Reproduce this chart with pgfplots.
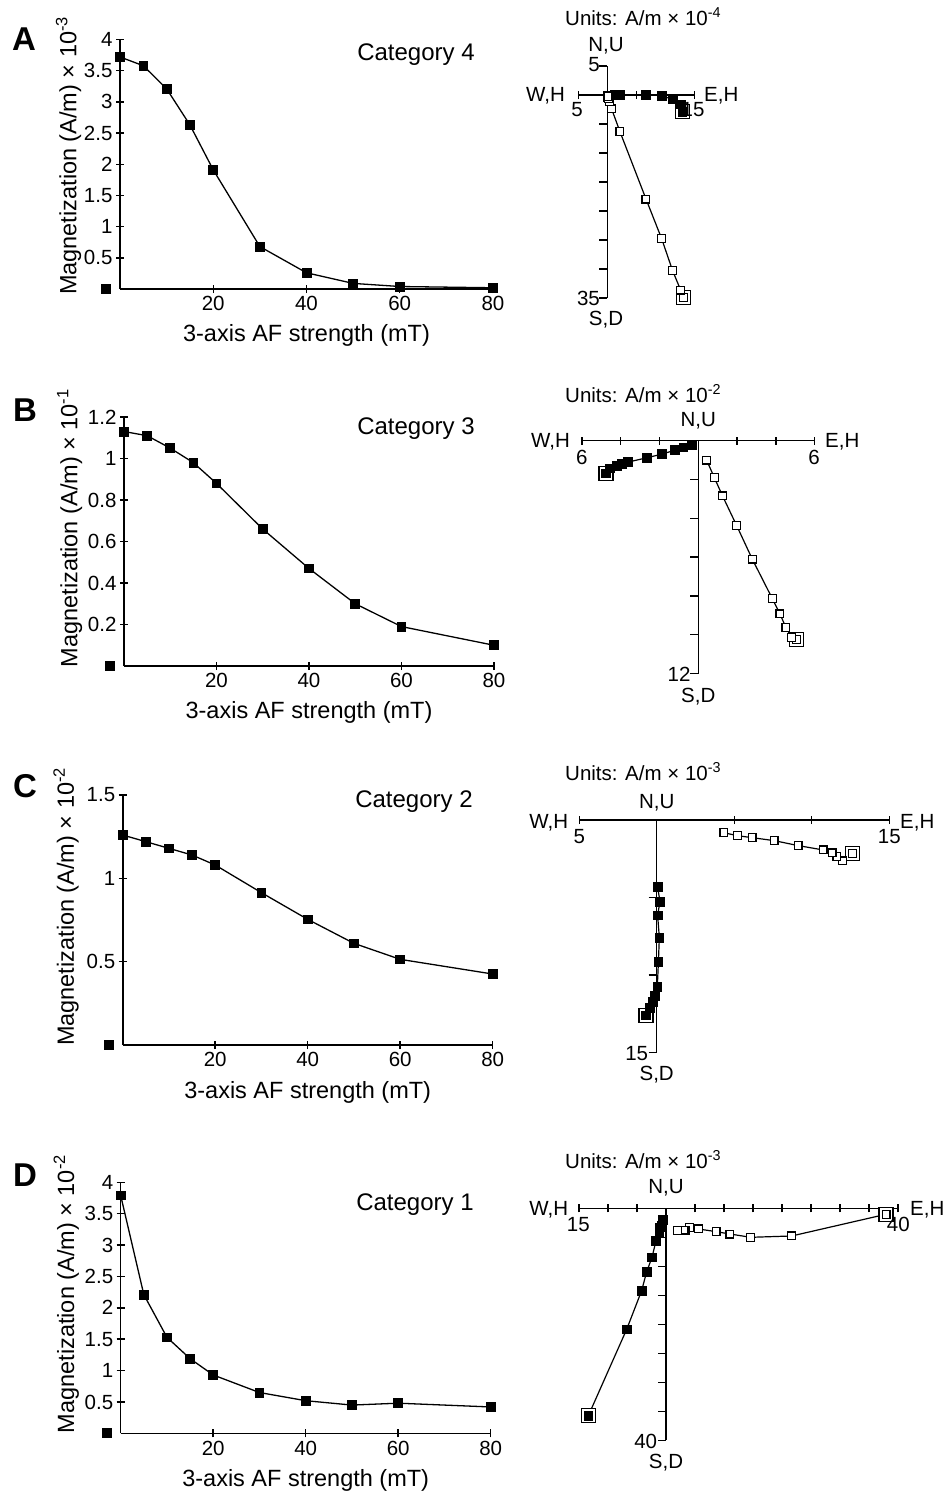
\documentclass[border=0pt]{standalone}
\usepackage{fontspec}
\setmainfont{Liberation Sans}
\usepackage{pgfplots}
\pgfplotsset{compat=1.18}
\newcommand\ftick{\fontsize{20.5}{24}\selectfont}
\newcommand\flab{\fontsize{23.5}{28}\selectfont}
\newcommand\fcat{\fontsize{24}{28}\selectfont}
\newcommand\fzij{\fontsize{20.5}{24}\selectfont}
\newcommand\flet{\fontsize{33}{38}\selectfont\bfseries}
\pgfplotsset{
  decay/.style={scale only axis, axis lines=left, axis line style={-, line width=1.6pt},
    xmin=0, xmax=80, ymin=0, enlargelimits=false, clip=false,
    tick align=center, major tick length=8pt, tick style={line width=1.4pt, black},
    xtick={20,40,60,80}, /pgf/number format/assume math mode=true,
    tick label style={font=\ftick}, label style={font=\flab},
    xlabel={3-axis AF strength (mT)},
    x label style={at={(axis description cs:0.5,-0.212)}, anchor=base},
    extra y ticks={0}, extra y tick labels={\rule{10pt}{10pt}},
    extra y tick style={major tick length=0pt, yticklabel style={xshift=-5pt}}},
  zij/.style={axis lines=middle, axis line style={-, line width=1.5pt},
    enlargelimits=false, clip=false, tick align=center, major tick length=8pt,
    tick style={line width=1.3pt, black}, xticklabels={}, yticklabels={},
    every major y tick/.append style={xshift=-4pt}},
  dline/.style={black, line width=1.3pt, mark=square*, mark size=4.4pt, mark options={line width=0.8pt}},
  zfill/.style={black, line width=1.2pt, mark=square*, mark size=4.4pt, mark options={line width=0.8pt}},
  zopen/.style={black, line width=1.2pt, mark=square*, mark size=3.9pt, mark options={fill=white, line width=1.2pt}},
  znrm/.style={only marks, mark=square*, mark size=7pt, mark options={fill=white, draw=black, line width=1.1pt}},
}
\begin{document}
\begin{tikzpicture}
\useasboundingbox (0pt,0pt) rectangle (947pt,-1492pt);

% ---------- A ----------
\begin{axis}[decay, at={(120pt,-289pt)}, anchor=south west, width=373pt, height=249.5pt,
  ymax=4, ytick={0.5,1,1.5,2,2.5,3,3.5,4},
  ylabel={Magnetization (A/m) × 10\textsuperscript{-3}},
  y label style={at={(axis description cs:-0.117,0.534)}, anchor=base}]
\addplot[dline] coordinates {(0,3.72)(5,3.58)(10,3.21)(15,2.63)(20,1.91)(30,0.68)(40,0.26)(50,0.09)(60,0.04)(80,0.02)};
\end{axis}
\begin{axis}[zij, at={(578.3pt,-298pt)}, anchor=south west, x=5.8pt, y=5.8pt,
  xmin=-5, xmax=15, ymin=-35, ymax=5, xtick={-5,5,10,15}, ytick={5,-5,-10,-15,-20,-25,-30,-35}]
\addplot[znrm] coordinates {(12.93,-2.87)};
\addplot[znrm] coordinates {(13.10,-34.94)};
\addplot[zfill] coordinates {(12.93,-2.87)(12.64,-1.61)(11.26,-0.75)(9.37,-0.11)(6.67,0.06)(2.18,0)(1.32,0)(0.57,-0.06)(0.17,-0.17)(0,-0.29)};
\addplot[zopen] coordinates {(13.10,-34.94)(12.64,-33.62)(11.26,-30.29)(9.37,-24.77)(6.67,-17.93)(2.18,-6.32)(0.75,-2.41)(0.40,-1.15)(0.2,-0.57)(0.1,-0.29)};
\end{axis}

% ---------- B ----------
\begin{axis}[decay, at={(124pt,-666pt)}, anchor=south west, width=370pt, height=249pt,
  ymax=1.2, ytick={0.2,0.4,0.6,0.8,1,1.2},
  ylabel={Magnetization (A/m) × 10\textsuperscript{-1}},
  y label style={at={(axis description cs:-0.126,0.554)}, anchor=base}]
\addplot[dline] coordinates {(0,1.13)(5,1.11)(10,1.05)(15,0.98)(20,0.88)(30,0.66)(40,0.47)(50,0.30)(60,0.19)(80,0.10)};
\end{axis}
\begin{axis}[zij, at={(581.9pt,-673.5pt)}, anchor=south west, x=19.4pt, y=19.4pt,
  xmin=-6, xmax=6, ymin=-12, ymax=0, xtick={-6,-4,-2,2,4,6}, ytick={-2,-4,-6,-8,-10,-12}]
\addplot[znrm] coordinates {(-4.76,-1.68)};
\addplot[znrm] coordinates {(5.07,-10.24)};
\addplot[zfill] coordinates {(-4.76,-1.68)(-4.55,-1.43)(-4.21,-1.29)(-3.95,-1.20)(-3.61,-1.10)(-2.66,-0.88)(-1.86,-0.69)(-1.19,-0.48)(-0.77,-0.34)(-0.34,-0.22)};
\addplot[zopen] coordinates {(5.07,-10.24)(4.81,-10.15)(4.52,-9.64)(4.21,-8.93)(3.81,-8.13)(2.78,-6.10)(1.98,-4.38)(1.25,-2.85)(0.82,-1.89)(0.43,-1.00)};
\end{axis}

% ---------- C ----------
\begin{axis}[decay, at={(122.7pt,-1045pt)}, anchor=south west, width=370pt, height=250pt,
  ymax=1.5, ytick={0.5,1,1.5},
  ylabel={Magnetization (A/m) × 10\textsuperscript{-2}},
  y label style={at={(axis description cs:-0.132,0.553)}, anchor=base}]
\addplot[dline] coordinates {(0,1.26)(5,1.22)(10,1.18)(15,1.14)(20,1.08)(30,0.914)(40,0.754)(50,0.61)(60,0.514)(80,0.426)};
\end{axis}
\begin{axis}[zij, at={(579.2pt,-1052.5pt)}, anchor=south west, x=15.5pt, y=15.5pt,
  xmin=-5, xmax=15, ymin=-15, ymax=0, xtick={-5,5,10,15}, ytick={-5,-10,-15}]
\addplot[znrm] coordinates {(-0.69,-12.60)};
\addplot[znrm] coordinates {(12.62,-2.15)};
\addplot[zfill] coordinates {(-0.69,-12.60)(-0.43,-12.12)(-0.26,-11.74)(-0.11,-11.37)(0.04,-10.77)(0.11,-9.14)(0.17,-7.58)(0.06,-6.16)(0.21,-5.26)(0.06,-4.33)};
\addplot[zopen] coordinates {(12.62,-2.15)(11.97,-2.64)(11.63,-2.36)(11.31,-2.12)(10.73,-1.93)(9.12,-1.65)(7.58,-1.33)(6.16,-1.14)(5.21,-1.01)(4.33,-0.82)};
\end{axis}

% ---------- D ----------
\begin{axis}[decay, at={(120.7pt,-1433.3pt)}, anchor=south west, width=370pt, height=251pt,
  ymax=4, ytick={0.5,1,1.5,2,2.5,3,3.5,4},
  ylabel={Magnetization (A/m) × 10\textsuperscript{-2}},
  y label style={at={(axis description cs:-0.126,0.555)}, anchor=base}]
\addplot[dline] coordinates {(0,3.79)(5,2.21)(10,1.53)(15,1.19)(20,0.93)(30,0.65)(40,0.52)(50,0.45)(60,0.48)(80,0.42)};
\end{axis}
\begin{axis}[zij, at={(579pt,-1440.3pt)}, anchor=south west, x=5.8pt, y=5.8pt,
  xmin=-15, xmax=40, ymin=-40, ymax=0, xtick={-15,-10,-5,5,10,15,20,25,30,35,40}, ytick={-5,-10,-15,-20,-25,-30,-35,-40}]
\addplot[znrm] coordinates {(-13.39,-35.75)};
\addplot[znrm] coordinates {(37.93,-1.03)};
\addplot[zfill] coordinates {(-13.39,-35.75)(-6.78,-20.86)(-4.20,-14.20)(-3.33,-10.92)(-2.41,-8.45)(-1.72,-5.57)(-1.15,-4.31)(-1.03,-3.28)(-0.75,-3.05)(-0.57,-2.01)};
\addplot[zopen] coordinates {(37.93,-1.03)(21.67,-4.77)(14.60,-5.00)(11.03,-4.43)(8.62,-4.02)(5.57,-3.56)(4.02,-3.28)(3.28,-3.74)(2.99,-3.74)(1.95,-3.85)};
\end{axis}

% ---------- panel letters and categories ----------
\node[font=\flet, anchor=base west, inner sep=0pt] at (12pt,-50pt) {A};
\node[font=\flet, anchor=base west, inner sep=0pt] at (13pt,-421.7pt) {B};
\node[font=\flet, anchor=base west, inner sep=0pt] at (13pt,-797.5pt) {C};
\node[font=\flet, anchor=base west, inner sep=0pt] at (13pt,-1186pt) {D};
\node[font=\fcat, anchor=base, inner sep=0pt] at (416pt,-60pt) {Category 4};
\node[font=\fcat, anchor=base, inner sep=0pt] at (416pt,-434pt) {Category 3};
\node[font=\fcat, anchor=base, inner sep=0pt] at (414pt,-807pt) {Category 2};
\node[font=\fcat, anchor=base, inner sep=0pt] at (415pt,-1210pt) {Category 1};

% ---------- Zijderveld labels ----------
\begin{scope}[every node/.style={font=\fzij, inner sep=0pt}]
% A
\node[anchor=base west] at (565pt,-25pt) {Units: A/m × 10\textsuperscript{-4}};
\node[anchor=base] at (606pt,-51.7pt) {N,U};
\node[anchor=base east] at (600pt,-71.7pt) {5};
\node[anchor=base east] at (565pt,-101.7pt) {W,H};
\node[anchor=base west] at (704pt,-101.7pt) {E,H};
\node[anchor=base] at (577pt,-116.7pt) {5};
\node[anchor=base] at (693pt,-116.7pt) {15};
\node[anchor=base east] at (600pt,-305pt) {35};
\node[anchor=base] at (606pt,-325pt) {S,D};
% B
\node[anchor=base west] at (565pt,-402pt) {Units: A/m × 10\textsuperscript{-2}};
\node[anchor=base] at (698.3pt,-426.7pt) {N,U};
\node[anchor=base east] at (570pt,-447.3pt) {W,H};
\node[anchor=base west] at (825pt,-447.3pt) {E,H};
\node[anchor=base] at (581.7pt,-464pt) {6};
\node[anchor=base] at (814pt,-464pt) {6};
\node[anchor=base east] at (690.7pt,-681.7pt) {12};
\node[anchor=base] at (698.3pt,-702.7pt) {S,D};
% C
\node[anchor=base west] at (565pt,-780pt) {Units: A/m × 10\textsuperscript{-3}};
\node[anchor=base] at (656.7pt,-808.3pt) {N,U};
\node[anchor=base east] at (568.3pt,-828.3pt) {W,H};
\node[anchor=base west] at (900pt,-828.3pt) {E,H};
\node[anchor=base] at (579.3pt,-843.3pt) {5};
\node[anchor=base] at (889.3pt,-843.3pt) {15};
\node[anchor=base east] at (648.3pt,-1060pt) {15};
\node[anchor=base] at (656.7pt,-1080pt) {S,D};
% D
\node[anchor=base west] at (565pt,-1168.3pt) {Units: A/m × 10\textsuperscript{-3}};
\node[anchor=base] at (666pt,-1193.3pt) {N,U};
\node[anchor=base east] at (568.3pt,-1215pt) {W,H};
\node[anchor=base west] at (910pt,-1215pt) {E,H};
\node[anchor=base] at (578.3pt,-1231.7pt) {15};
\node[anchor=base] at (898.3pt,-1231.7pt) {40};
\node[anchor=base east] at (657.3pt,-1448.3pt) {40};
\node[anchor=base] at (666pt,-1468pt) {S,D};
\end{scope}
\end{tikzpicture}
\end{document}
